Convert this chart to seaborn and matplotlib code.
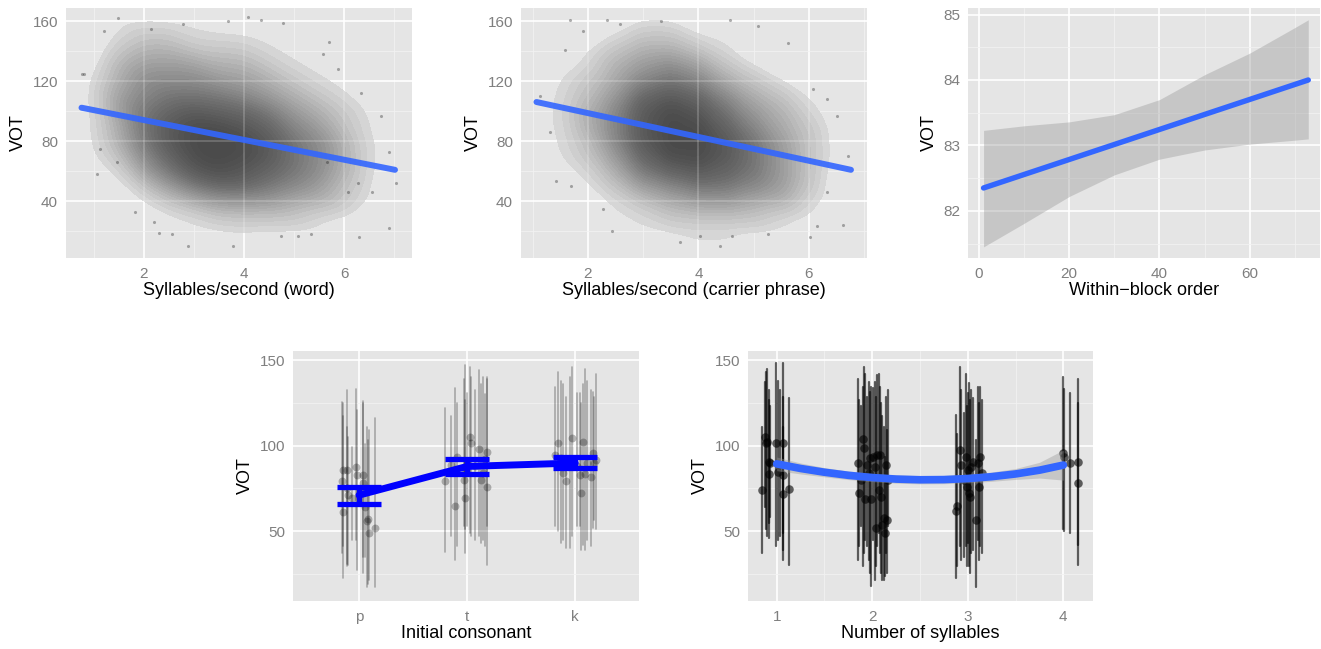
import numpy as np
import pandas as pd
import matplotlib
matplotlib.use("Agg")
import matplotlib.pyplot as plt
from matplotlib.colors import LinearSegmentedColormap
from matplotlib.ticker import FixedLocator
import seaborn as sns

# ------------------------------------------------------------------ data
# density of the VOT clouds, read on a coarse grid (rows: x centre, cols: y centre)
GRID_X = [1.0, 1.5, 2.0, 2.5, 3.0, 3.5, 4.0, 4.5, 5.0, 5.5, 6.0, 6.5, 7.0]
GRID_Y = [10, 20, 30, 40, 50, 60, 70, 80, 90, 100, 110, 120, 130, 140, 150, 160]
DENS_WORD = [
    [0, 0, 0, 0, 0, 0.5, 1, 1, 1, 1, 1, 1, 0.5, 0, 0, 0],
    [0, 0, 0, 0, 0.5, 1, 2, 3, 3, 4, 4, 3, 3, 2, 1, 1],
    [0, 0, 0, 1, 2, 4, 5, 6, 6, 6, 5, 5, 4, 3, 2, 1],
    [0, 0, 1, 2, 4, 6, 7, 8, 8, 7, 6, 5, 4, 3, 2, 1],
    [0, 1, 1, 3, 6, 8, 9, 9, 9, 8, 6, 5, 4, 2, 1, 1],
    [0, 1, 2, 4, 7, 9, 9, 9, 9, 7, 6, 4, 3, 2, 1, 0.5],
    [0.5, 1, 2, 4, 7, 8, 9, 9, 8, 7, 5, 4, 3, 2, 1, 0.5],
    [0, 1, 2, 4, 6, 7, 8, 8, 7, 6, 4, 3, 2, 1, 1, 0],
    [0, 1, 2, 3, 5, 6, 6, 6, 5, 4, 3, 2, 1, 1, 0, 0],
    [0, 1, 1, 3, 4, 5, 5, 5, 4, 3, 2, 1, 1, 0, 0, 0],
    [0, 0, 1, 2, 2, 3, 3, 3, 2, 2, 1, 1, 0, 0, 0, 0],
    [0, 0.5, 0, 1, 1, 1, 1, 1, 1, 1, 0.5, 0, 0, 0, 0, 0],
    [0, 0, 0, 0, 0, 0.5, 0.5, 0.5, 0, 0, 0, 0, 0, 0, 0, 0],
]
DENS_CARRIER = [
    [0, 0, 0, 0, 0, 0, 0, 0, 0.5, 0.5, 0.5, 0, 0, 0, 0, 0],
    [0, 0, 0, 0, 0, 0.5, 1, 1, 1, 1, 1, 1, 0.5, 0, 0, 0],
    [0, 0, 0, 0, 1, 1, 2, 2, 3, 3, 2, 2, 1, 1, 0, 0],
    [0, 0, 1, 1, 2, 3, 4, 5, 5, 5, 4, 3, 3, 2, 1, 0],
    [0, 1, 1, 2, 4, 6, 7, 8, 8, 8, 7, 5, 4, 3, 2, 1],
    [0, 1, 2, 3, 5, 7, 9, 9, 9, 9, 8, 6, 5, 3, 2, 1],
    [1, 1, 2, 4, 6, 8, 9, 9, 9, 8, 7, 5, 4, 2, 1, 0],
    [1, 1, 2, 4, 6, 7, 8, 8, 7, 6, 5, 3, 2, 1, 1, 0],
    [0, 1, 2, 3, 5, 6, 6, 6, 5, 4, 3, 2, 1, 0, 0, 0],
    [0, 1, 1, 3, 4, 4, 4, 4, 3, 3, 2, 1, 0, 0, 0, 0],
    [0, 0, 1, 1, 2, 2, 2, 2, 2, 1, 1, 0, 0, 0, 0, 0],
    [0, 0, 0, 0.5, 0, 0.5, 0.5, 0.5, 0.5, 0.5, 0.5, 0, 0, 0, 0, 0],
    [0, 0, 0, 0, 0, 0, 0, 0, 0, 0, 0, 0, 0, 0, 0, 0],
]
# sparse outlying points of the clouds
OUT_WORD_X = [0.75, 1.05, 1.82, 2.19, 2.30, 2.56, 2.87, 3.77, 4.74, 5.07, 5.34, 6.30, 6.90,
              6.55, 6.90, 6.73, 6.33, 5.87, 5.70, 5.57, 4.77, 4.33, 4.07, 3.67, 2.77, 2.13,
              1.47, 1.20, 0.80, 1.12, 1.45, 6.07, 6.27, 5.66, 7.04]
OUT_WORD_Y = [124.7, 58, 32.6, 26, 19, 18, 10, 10, 17, 17, 18, 16, 22,
              46, 72.6, 97, 112, 128, 146, 138, 159, 161, 163, 160, 158, 155,
              162, 153.5, 125, 74.7, 66, 46, 52, 66, 52]
OUT_CARR_X = [1.67, 1.92, 1.58, 1.13, 1.31, 1.43, 1.70, 2.28, 2.43, 3.66, 4.03, 4.39, 4.60,
              5.26, 6.01, 6.14, 6.62, 6.32, 6.71, 6.50, 6.32, 6.07, 5.62, 5.08, 4.57, 3.33,
              2.58, 2.34]
OUT_CARR_Y = [161.3, 153.5, 141, 110, 86, 53.5, 50, 34.7, 20, 12.5, 17, 10, 17,
              18, 15.8, 23.5, 24, 46, 70, 97, 108, 114.7, 145.8, 157, 161, 160,
              158, 161]

FIT_WORD_X = [0.75, 7.02]
FIT_WORD_Y = [102.4, 60.9]
FIT_CARR_X = [1.07, 6.76]
FIT_CARR_Y = [106.2, 60.9]

ORDER_X = [1, 10, 20, 30, 40, 50, 60, 70, 73]
ORDER_UP = [83.23, 83.30, 83.36, 83.47, 83.70, 84.08, 84.41, 84.80, 84.92]
ORDER_LO = [81.45, 81.81, 82.22, 82.55, 82.79, 82.93, 83.02, 83.08, 83.10]
ORDER_FIT_X = [1, 73]
ORDER_FIT_Y = [82.35, 84.00]

# initial consonant: per-item means and ranges
CONS_LABELS = ["p", "t", "k"]
CONS_ITEM_CAT = [1] * 16 + [2] * 17 + [3] * 17
CONS_ITEM_OFF = [-0.157, -0.151, -0.145, -0.114, -0.110, -0.099, -0.068, -0.028, -0.022, 0.034,
                 0.040, 0.077, 0.086, 0.096, 0.148, 0.055,
                 -0.207, -0.151, -0.114, -0.090, -0.028, -0.022, -0.015, 0.031, 0.040, 0.108,
                 0.127, 0.185, 0.188, 0.000, 0.070, 0.150, 0.165,
                 -0.160, -0.028, 0.071, 0.164, 0.194, -0.114, -0.083, 0.040, 0.086, 0.148,
                 0.049, -0.190, -0.136, -0.050, 0.020, 0.110, 0.170]
CONS_ITEM_MEAN = [79.4, 61.4, 85.8, 85.8, 75.1, 71.2, 69.3, 87.7, 82.9, 82.9,
                  78.0, 55.6, 57.2, 48.8, 51.7, 64.0,
                  79.4, 88.7, 64.4, 93.6, 80.0, 85.8, 69.3, 105.2, 101.4, 98.0,
                  80.0, 75.5, 96.1, 90.0, 88.0, 84.0, 92.0,
                  101.4, 104.3, 102.3, 95.5, 91.6, 83.9, 79.4, 82.9, 83.5, 81.9,
                  72.2, 94.5, 92.6, 89.7, 88.0, 90.0, 89.7]
CONS_ITEM_LO = [37, 22.5, 41, 29.4, 31, 30, 45, 45, 27, 25.5,
                35, 17, 19, 21.5, 17, 35,
                38, 47, 33, 41, 53, 37, 51, 49, 47, 47,
                43, 30, 53, 53, 45, 45, 41,
                50, 47, 42, 52, 51, 45, 40, 53, 39, 41,
                39, 53, 43, 40, 53, 45, 56.6]
CONS_ITEM_HI = [125.7, 124.7, 117, 132.5, 111, 105, 99, 133, 121, 125,
                126, 111, 103, 109, 116, 101,
                121.8, 117, 133.5, 125, 139, 126.6, 147, 146, 140, 144,
                136, 140, 139, 130.5, 132.5, 140, 130,
                143, 146, 136, 131.5, 142, 136, 128.6, 130.5, 145, 132.5,
                125, 134, 138, 140, 130.5, 138, 128.6]
CONS_MEAN = [71.0, 87.8, 89.8]
CONS_LO = [65.9, 83.4, 86.6]
CONS_HI = [76.0, 92.0, 93.2]

# number of syllables: per-item means and ranges
SYL_ITEM_CAT = [1] * 14 + [2] * 23 + [3] * 17 + [4] * 5
SYL_ITEM_OFF = [-0.154, -0.126, -0.115, -0.101, -0.084, -0.080, -0.066, -0.003, 0.010, 0.035,
                0.066, 0.066, 0.066, 0.129,
                -0.150, -0.136, -0.115, -0.098, -0.087, -0.080, -0.056, -0.038, -0.028, -0.014,
                0.007, 0.031, 0.042, 0.049, 0.066, 0.084, 0.094, 0.101, 0.119, 0.136,
                0.147, 0.154, 0.161,
                -0.119, -0.112, -0.084, -0.070, -0.042, -0.024, -0.007, 0.003, 0.014, 0.028,
                0.035, 0.056, 0.084, 0.108, 0.115, 0.126, 0.150,
                0.000, 0.005, 0.070, 0.150, 0.150]
SYL_ITEM_MEAN = [74.1, 105.2, 101.7, 102.0, 90.3, 83.3, 90.0, 101.4, 84.8, 88.7,
                 101.4, 82.9, 71.6, 74.7,
                 90.0, 72.0, 80.0, 104.0, 98.4, 69.0, 88.7, 84.0, 92.6, 69.0,
                 93.6, 87.7, 51.7, 94.5, 74.0, 94.5, 70.0, 53.7, 57.6, 49.0,
                 88.7, 56.6, 80.0,
                 61.5, 64.4, 97.5, 88.7, 80.0, 93.6, 76.0, 85.8, 72.0, 70.0,
                 87.7, 90.6, 56.6, 89.7, 76.0, 93.6, 84.0,
                 95.5, 93.6, 89.7, 90.6, 78.0]
SYL_ITEM_LO = [37, 64, 51, 47, 54.7, 46, 58.5, 41, 45, 47,
               33, 39, 49, 30,
               33, 41, 52.7, 29.4, 37, 45, 41, 33, 25.5, 17.7,
               45, 21.6, 29.4, 41, 49, 37, 25.5, 21.6, 21.6, 23.5,
               37, 25.5, 52.7,
               22.5, 29.4, 41, 33, 35, 41, 29.4, 43, 29.4, 25.5,
               37, 39, 17, 45, 33, 41, 37,
               51, 50, 49, 42, 30]
SYL_ITEM_HI = [110.7, 137, 143, 145, 126.6, 132.5, 123, 148, 138, 132.5,
               148, 128.6, 111, 127.6,
               139, 126.6, 123, 134.4, 146, 142, 128.6, 137, 131.5, 134.4,
               133.5, 137, 128.6, 141, 142, 134.4, 125, 117, 111, 93.6,
               128.6, 109, 132.5,
               118, 107, 146, 132.5, 119, 142, 123, 130.5, 136.4, 126.6,
               132.5, 127.6, 103, 134.4, 125, 134.4, 126.6,
               140, 133, 130.5, 125, 139]
SYL_FIT_X = [1.0, 1.25, 1.5, 1.75, 2.0, 2.25, 2.5, 2.75, 3.0, 3.25, 3.5, 3.75, 4.0]
SYL_FIT_Y = [89.3, 86.6, 84.4, 82.6, 81.3, 80.4, 80.0, 80.1, 80.7, 81.8, 83.4, 85.6, 88.6]
SYL_FIT_UP = [93.3, 89.8, 87.1, 85.1, 83.7, 82.8, 82.4, 82.5, 83.2, 84.5, 86.6, 90.2, 97.4]
SYL_FIT_LO = [85.3, 83.4, 81.7, 80.1, 78.9, 78.0, 77.6, 77.7, 78.2, 79.1, 80.2, 81.0, 79.8]

# ------------------------------------------------------------------ style
sns.set_theme(style="darkgrid")
plt.rcParams["font.family"] = ["Liberation Sans", "DejaVu Sans"]

BG = "#E5E5E5"
TICK_GREY = "#7F7F7F"
SMOOTH_BLUE = "#3366FF"

fig = plt.figure(figsize=(13.21, 6.49), dpi=100)
fig.patch.set_facecolor("white")

H = 250 / 649
ax1 = fig.add_axes([66 / 1321, 1 - 258 / 649, 346 / 1321, H])
ax2 = fig.add_axes([521 / 1321, 1 - 258 / 649, 346 / 1321, H])
ax3 = fig.add_axes([968 / 1321, 1 - 258 / 649, 352 / 1321, H])
ax4 = fig.add_axes([293 / 1321, 1 - 601 / 649, 346 / 1321, H])
ax5 = fig.add_axes([748 / 1321, 1 - 601 / 649, 345 / 1321, H])


def style(ax, xmaj, xmin, ymaj, ymin, xlim, ylim, xlabel, xticklabels=None):
    ax.set_facecolor(BG)
    for s in ax.spines.values():
        s.set_visible(False)
    ax.set_xlim(*xlim)
    ax.set_ylim(*ylim)
    ax.xaxis.set_major_locator(FixedLocator(xmaj))
    ax.yaxis.set_major_locator(FixedLocator(ymaj))
    ax.xaxis.set_minor_locator(FixedLocator(xmin))
    ax.yaxis.set_minor_locator(FixedLocator(ymin))
    if xticklabels is not None:
        ax.set_xticklabels(xticklabels)
    ax.grid(which="major", color="white", lw=1.2)
    ax.grid(which="minor", color="#F2F2F2", lw=0.6)
    ax.set_axisbelow(True)
    ax.tick_params(which="major", length=3.2, width=0.9, color=TICK_GREY,
                   labelcolor=TICK_GREY, labelsize=11, pad=2.5)
    ax.tick_params(axis="x", which="major", pad=3)
    ax.tick_params(which="minor", length=0)
    ax.set_xlabel(xlabel, fontsize=13, color="black", labelpad=1)
    ax.set_ylabel("VOT", fontsize=13, color="black", labelpad=4)


# opaque greys (black points piled on the grey panel)
cloud_cmap = LinearSegmentedColormap.from_list(
    "cloud", ["#D9D9D9", "#A2A2A2", "#707070", "#4A4A4A"])


def cloud(ax, dens, out_x, out_y, xmaj, ymaj):
    gx, gy, gw = [], [], []
    for i, xc in enumerate(GRID_X):
        for j, yc in enumerate(GRID_Y):
            if dens[i][j] > 0:
                gx.append(xc)
                gy.append(yc)
                gw.append(dens[i][j])
    df = pd.DataFrame({"x": gx, "y": gy, "w": gw})
    before = list(ax.collections)
    sns.kdeplot(data=df, x="x", y="y", weights="w", fill=True, levels=30,
                thresh=0.06, bw_adjust=0.55, cmap=cloud_cmap, ax=ax, zorder=2)
    for c in ax.collections:
        if not any(c is b for b in before):
            c.set_edgecolor("none")
            c.set_linewidth(0)
            c.set_antialiased(False)
    # faint grid showing through the semi-transparent point cloud
    for v in xmaj:
        ax.axvline(v, color="white", lw=1.2, alpha=0.22, zorder=2.5)
    for v in ymaj:
        ax.axhline(v, color="white", lw=1.2, alpha=0.22, zorder=2.5)
    sns.scatterplot(x=out_x, y=out_y, color="black", alpha=0.3, s=5,
                    linewidth=0, ax=ax, zorder=3)


# ---- panel 1
cloud(ax1, DENS_WORD, OUT_WORD_X, OUT_WORD_Y, [2, 4, 6], [40, 80, 120, 160])
sns.lineplot(x=FIT_WORD_X, y=FIT_WORD_Y, color=SMOOTH_BLUE, lw=4.3, alpha=0.9, ax=ax1, zorder=4)
style(ax1, [2, 4, 6], [1, 3, 5, 7], [40, 80, 120, 160], [20, 60, 100, 140],
      (0.44, 7.36), (2, 169), "Syllables/second (word)")

# ---- panel 2
cloud(ax2, DENS_CARRIER, OUT_CARR_X, OUT_CARR_Y, [2, 4, 6], [40, 80, 120, 160])
sns.lineplot(x=FIT_CARR_X, y=FIT_CARR_Y, color=SMOOTH_BLUE, lw=4.3, alpha=0.9, ax=ax2, zorder=4)
style(ax2, [2, 4, 6], [1, 3, 5, 7], [40, 80, 120, 160], [20, 60, 100, 140],
      (0.79, 7.05), (2, 169), "Syllables/second (carrier phrase)")

# ---- panel 3
ax3.fill_between(ORDER_X, ORDER_LO, ORDER_UP, color="#999999", alpha=0.4, lw=0, zorder=2)
sns.lineplot(x=ORDER_FIT_X, y=ORDER_FIT_Y, color=SMOOTH_BLUE, lw=3.9, ax=ax3, zorder=3)
style(ax3, [0, 20, 40, 60], [10, 30, 50, 70], [82, 83, 84, 85], [81.5, 82.5, 83.5, 84.5],
      (-2.45, 75.6), (81.28, 85.1), "Within\u2212block order")


def ranges(ax, cats, offs, means, los, his, alpha, lw, s):
    pos = [c + o for c, o in zip(cats, offs)]
    rows = []
    for k, (p, lo, hi) in enumerate(zip(pos, los, his)):
        rows.append({"x": p, "y": lo, "item": k})
        rows.append({"x": p, "y": hi, "item": k})
    df = pd.DataFrame(rows)
    sns.lineplot(data=df, x="x", y="y", units="item", estimator=None, sort=False,
                 color="black", alpha=alpha, lw=lw, ax=ax, legend=False, zorder=2)
    sns.scatterplot(x=pos, y=means, color="black", alpha=alpha, s=s, linewidth=0,
                    ax=ax, zorder=3)


# ---- panel 4
ranges(ax4, CONS_ITEM_CAT, CONS_ITEM_OFF, CONS_ITEM_MEAN, CONS_ITEM_LO, CONS_ITEM_HI,
       0.27, 1.2, 32)
cons_pos = [1, 2, 3]
sns.lineplot(x=cons_pos, y=CONS_MEAN, color="blue", lw=5, ax=ax4, zorder=4)
ax4.errorbar(cons_pos, CONS_MEAN,
             yerr=[np.subtract(CONS_MEAN, CONS_LO), np.subtract(CONS_HI, CONS_MEAN)],
             fmt="none", ecolor="blue", elinewidth=3.8, capsize=15.5, capthick=3.8, zorder=5)
style(ax4, [1, 2, 3], [], [50, 100, 150], [25, 75, 125],
      (0.39, 3.59), (9.1, 155.3), "Initial consonant", xticklabels=CONS_LABELS)

# ---- panel 5
ranges(ax5, SYL_ITEM_CAT, SYL_ITEM_OFF, SYL_ITEM_MEAN, SYL_ITEM_LO, SYL_ITEM_HI,
       0.6, 1.6, 38)
ax5.fill_between(SYL_FIT_X, SYL_FIT_LO, SYL_FIT_UP, color="#999999", alpha=0.4, lw=0, zorder=4)
sns.lineplot(x=SYL_FIT_X, y=SYL_FIT_Y, color=SMOOTH_BLUE, lw=5.5, ax=ax5, zorder=5)
style(ax5, [1, 2, 3, 4], [1.5, 2.5, 3.5], [50, 100, 150], [25, 75, 125],
      (0.70, 4.31), (9.1, 155.3), "Number of syllables")

fig.savefig("out.png", dpi=100, facecolor="white")
